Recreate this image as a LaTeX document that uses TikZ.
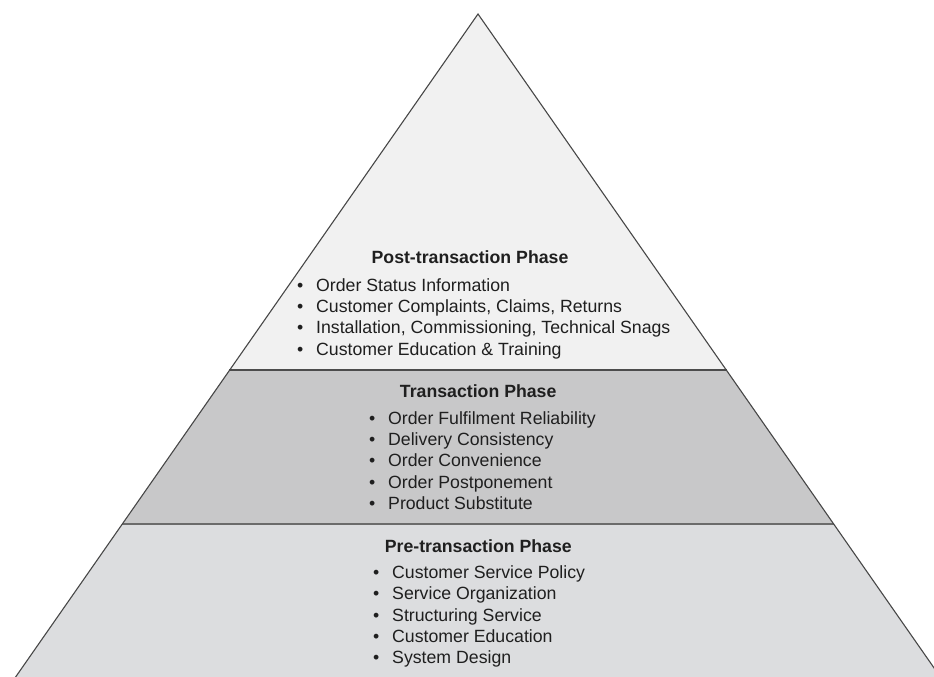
\documentclass[tikz,border=0pt]{standalone}
\usepackage{fontspec}
\setmainfont{Liberation Sans}
\begin{document}
\begin{tikzpicture}[x=1bp,y=-1bp,
  edge/.style={draw=black!72,line width=1.1bp,line join=miter},
  sepline/.style={draw=black!70,line width=1.6bp},
  sepline2/.style={draw=black!58,line width=2.2bp},
  head/.style={inner sep=0pt,anchor=base,text=black!88,font=\fontsize{17.7bp}{21.3bp}\selectfont\bfseries},
  items/.style={inner sep=0pt,anchor=base west,text=black!88,font=\fontsize{17.7bp}{21.35bp}\selectfont}]
\definecolor{topfill}{HTML}{F1F1F1}
\definecolor{midfill}{HTML}{C8C8C9}
\definecolor{botfill}{HTML}{DCDDDF}
\useasboundingbox (0,0) rectangle (934,677);
\begin{scope}
\clip (0,0) rectangle (934,677);
% apex (478,14), slope 0.6985 px/px
\coordinate (apex) at (478,14);
\coordinate (tl) at (229.3,370);
\coordinate (tr) at (726.7,370);
\coordinate (ml) at (122.4,524);
\coordinate (mr) at (833.6,524);
\coordinate (bl) at (-6.7,709);
\coordinate (br) at (962.7,709);
\fill[topfill] (apex) -- (tr) -- (tl) -- cycle;
\fill[midfill] (tl) -- (tr) -- (mr) -- (ml) -- cycle;
\fill[botfill] (ml) -- (mr) -- (br) -- (bl) -- cycle;
\draw[sepline] (tl) -- (tr);
\draw[sepline2] (ml) -- (mr);
\draw[edge] (bl) -- (apex) -- (br);
\end{scope}
% Post-transaction
\node[head] (posth) at (470,263) {Post-transaction Phase};
\node[items] (postl) at (297,291) {\begin{tabular}[t]{@{}l@{}}
\makebox[19bp][l]{•}Order Status Information\\
\makebox[19bp][l]{•}Customer Complaints, Claims, Returns\\
\makebox[19bp][l]{•}Installation, Commissioning, Technical Snags\\
\makebox[19bp][l]{•}Customer Education \& Training
\end{tabular}};
% Transaction
\node[head] (transh) at (478.2,397) {Transaction Phase};
\node[items] (transl) at (369,424) {\begin{tabular}[t]{@{}l@{}}
\makebox[19bp][l]{•}Order Fulfilment Reliability\\
\makebox[19bp][l]{•}Delivery Consistency\\
\makebox[19bp][l]{•}Order Convenience\\
\makebox[19bp][l]{•}Order Postponement\\
\makebox[19bp][l]{•}Product Substitute
\end{tabular}};
% Pre-transaction
\node[head] (preh) at (478.3,552) {Pre-transaction Phase};
\node[items] (prel) at (373,578.3) {\begin{tabular}[t]{@{}l@{}}
\makebox[19bp][l]{•}Customer Service Policy\\
\makebox[19bp][l]{•}Service Organization\\
\makebox[19bp][l]{•}Structuring Service\\
\makebox[19bp][l]{•}Customer Education\\
\makebox[19bp][l]{•}System Design
\end{tabular}};
\end{tikzpicture}
\end{document}
